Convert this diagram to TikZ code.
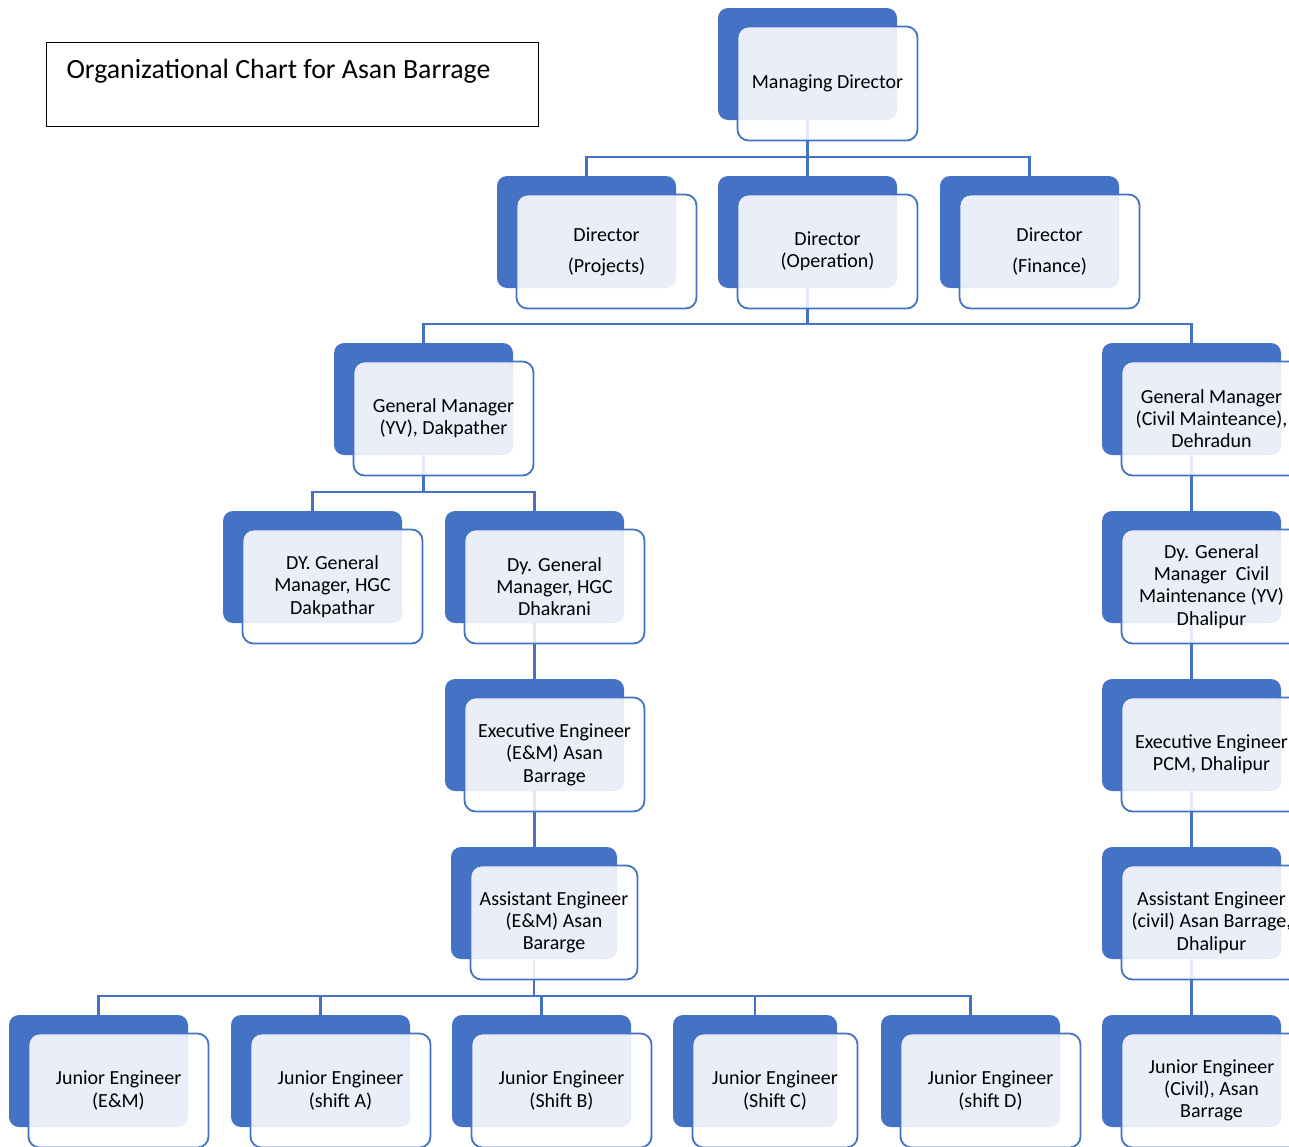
\documentclass[tikz,border=0pt]{standalone}
\usepackage{fontspec}
\setmainfont{Carlito}
\usepackage{xcolor}
\usepackage{tikz}
\usetikzlibrary{positioning}

\definecolor{orgblue}{HTML}{4472C4}
\definecolor{orglight}{HTML}{EAEEF8}
\pgfdeclarelayer{background}
\pgfsetlayers{background,main}

\newcommand{\orgfont}{\fontsize{20}{22.3}\selectfont}
% one post: blue card behind, outlined card in front
\newcommand{\orgbox}[5][179]{%
    \node[back, minimum width=#1pt] (#2) at ({#3+#1/2},{#4+56}) {};
    \node[front, minimum width=#1pt+1pt] (#2f) at ([shift={(20pt,-19.5pt)}]#2.center) {#5};
}

\begin{document}
\begin{tikzpicture}[
        x={(1pt,0pt)}, y={(0pt,-1pt)},
        font=\orgfont,
        back/.style={fill=orgblue, rounded corners=10pt, minimum height=112pt, inner sep=0pt, outer sep=0pt},
        front/.style={draw=orgblue, line width=1.8pt, fill=white, fill opacity=0.85, text opacity=1,
            rounded corners=11pt, minimum height=114pt, inner sep=0pt, align=center,
            path picture={\fill[orglight, fill opacity=1, rounded corners=9pt]
                (path picture bounding box.north west) rectangle ([shift={(-21pt,21pt)}]path picture bounding box.south east);}},
        link/.style={draw=orgblue, line width=2.5pt},
        titlebox/.style={draw, line width=1.4pt, minimum width=492pt, minimum height=84pt, anchor=north west}
    ]
        \useasboundingbox (0,0) rectangle (1289,1146);
        \clip (0,0) rectangle (1289,1146);

        \node[titlebox] (title) at (46,42) {};
        \node[anchor=west, font=\fontsize{27.8}{30}\selectfont] (titletext) at ([xshift=17pt, yshift=-29.5pt]title.north west) {Organizational Chart for Asan Barrage};

        \orgbox{md}{718}{8}{Managing Director}

        \orgbox{dproj}{497}{176}{Director\\[8.5pt](Projects)}
        \orgbox{dop}{718}{176}{Director\\(Operation)}
        \orgbox{dfin}{940}{176}{Director\\[8.5pt](Finance)}

        \orgbox{gmyv}{334}{343}{General Manager\\(YV), Dakpather}
        \orgbox{gmcv}{1102}{343}{General Manager\\(Civil Mainteance),\\Dehradun}

        \orgbox{dgmdak}{223}{511}{DY. General\\Manager, HGC\\Dakpathar}
        \orgbox{dgmdha}{445}{511}{Dy. General\\Manager, HGC\\Dhakrani}
        \orgbox{dgmcv}{1102}{511}{Dy. General\\Manager~ Civil\\Maintenance (YV)\\Dhalipur}

        \orgbox{eeem}{445}{679}{Executive Engineer\\(E\&M) Asan\\Barrage}
        \orgbox{eepcm}{1102}{679}{Executive Engineer\\PCM, Dhalipur}

        \orgbox[166]{aeem}{451}{847}{Assistant Engineer\\(E\&M) Asan\\Bararge}
        \orgbox{aecv}{1102}{847}{Assistant Engineer\\(civil) Asan Barrage,\\Dhalipur}

        \orgbox{jeem}{9}{1015}{Junior Engineer\\(E\&M)}
        \orgbox{jea}{231}{1015}{Junior Engineer\\(shift A)}
        \orgbox{jeb}{452}{1015}{Junior Engineer\\(Shift B)}
        \orgbox[164]{jec}{673}{1015}{Junior Engineer\\(Shift C)}
        \orgbox{jed}{881}{1015}{Junior Engineer\\(shift D)}
        \orgbox{jecv}{1102}{1015}{Junior Engineer\\(Civil), Asan\\Barrage}

        \begin{pgfonlayer}{background}
            \draw[link] (md.south) -- (dop.north);
            \draw[link] (dproj.north) -- ++(0,19pt) -| (dfin.north);
            \draw[link] (dop.south) -- ++(0,-36pt);
            \draw[link] (gmyv.north) -- ++(0,19pt) -| (gmcv.north);
            \draw[link] (gmyv.south) -- ++(0,-37pt);
            \draw[link] (dgmdak.north) -- ++(0,19pt) -| (dgmdha.north);
            \draw[link] (dgmdha.south) -- (eeem.north);
            \draw[link] (eeem.south) -- (eeem.south |- aeem.north);
            \draw[link] (aeem.south) -- ++(0,-37pt);
            \draw[link] (jeem.north) -- ++(0,19pt) -| (jed.north);
            \foreach \je in {jea,jeb,jec}
                \draw[link] (\je.north) -- ++(0,19pt);
            \draw[link] (gmcv.south) -- (dgmcv.north);
            \draw[link] (dgmcv.south) -- (eepcm.north);
            \draw[link] (eepcm.south) -- (aecv.north);
            \draw[link] (aecv.south) -- (jecv.north);
        \end{pgfonlayer}
    \end{tikzpicture}
\end{document}
